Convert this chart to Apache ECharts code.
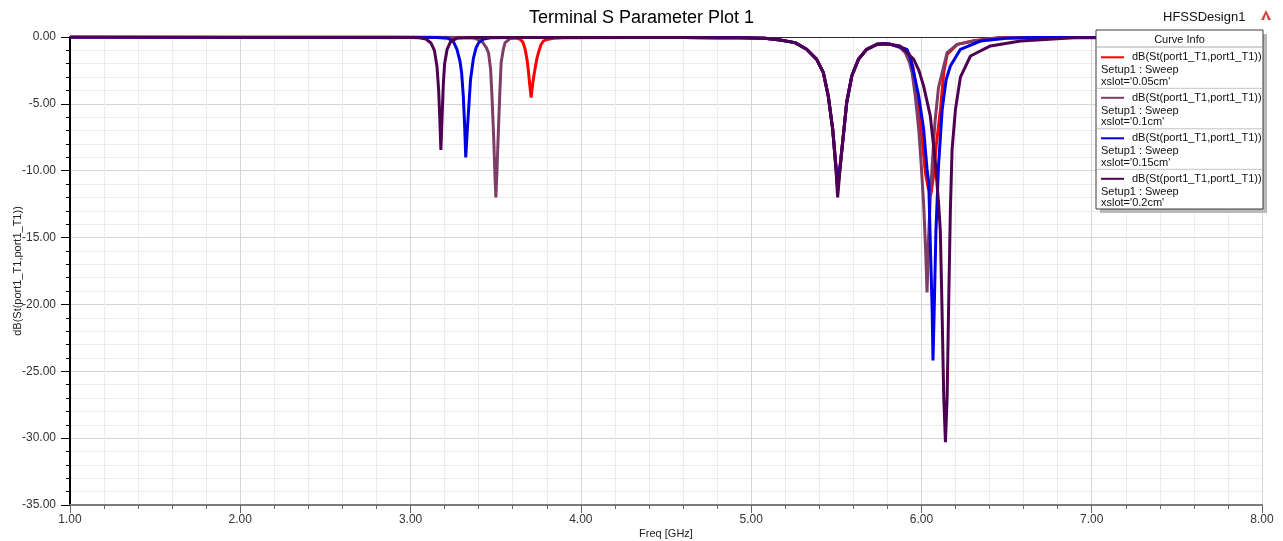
<!DOCTYPE html>
<html>
<head>
<meta charset="utf-8">
<title>Terminal S Parameter Plot 1</title>
<script src="https://cdn.jsdelivr.net/npm/echarts@6/dist/echarts.min.js"></script>
<style>
  html, body { margin: 0; padding: 0; background: #fff; }
  #chart { width: 1283px; height: 541px; }
</style>
</head>
<body>
<div id="chart"></div>
<script>
// Return loss |S11| in dB versus frequency (GHz) for four slot widths.
const traceName = "dB(St(port1_T1,port1_T1))";
const setupName = "Setup1 : Sweep";
const slotLabels = ["xslot='0.05cm'", "xslot='0.1cm'", "xslot='0.15cm'", "xslot='0.2cm'"];
const traceColors = ["#ff0000", "#7e3d66", "#0000e6", "#4e0052"];

const xTickValues = [1, 2, 3, 4, 5, 6, 7, 8];
const yTickValues = [0, -5, -10, -15, -20, -25, -30, -35];

const slot005 = [
  [1.0, 0.00], [2.0, -0.01], [3.0, -0.02], [3.55, -0.03], [3.62, -0.08], [3.645, -0.18],
  [3.66, -0.4], [3.673, -0.92], [3.684, -1.7], [3.693, -2.67], [3.70, -3.6], [3.708, -4.54],
  [3.716, -3.6], [3.724, -2.9], [3.732, -2.3], [3.742, -1.6], [3.751, -1.17], [3.765, -0.6],
  [3.78, -0.3], [3.80, -0.18], [3.84, -0.1], [3.9, -0.05], [4.3, -0.03], [4.6, -0.03],
  [4.8, -0.05], [4.934, -0.06], [5.08, -0.1], [5.17, -0.22], [5.257, -0.42], [5.326, -0.92],
  [5.385, -1.67], [5.424, -2.67], [5.453, -4.42], [5.479, -6.91], [5.498, -9.6], [5.508, -10.8],
  [5.522, -9.6], [5.541, -7.42], [5.561, -4.91], [5.591, -2.92], [5.63, -1.67], [5.679, -0.92],
  [5.738, -0.55], [5.78, -0.5], [5.82, -0.55], [5.875, -0.75], [5.90, -0.9], [5.925, -1.2],
  [5.95, -2.2], [5.975, -4.4], [5.99, -6.0], [6.004, -7.7], [6.024, -10.2], [6.04, -11.3],
  [6.055, -11.8], [6.07, -10.5], [6.088, -8.0], [6.112, -5.4], [6.131, -2.67], [6.151, -1.3],
  [6.21, -0.55], [6.307, -0.28], [6.464, -0.06], [6.7, -0.04], [7.0, -0.03], [8.0, -0.03]
];

const slot010 = [
  [1.0, 0.00], [2.0, -0.01], [3.0, -0.02], [3.30, -0.03], [3.38, -0.1], [3.42, -0.35],
  [3.445, -0.8], [3.458, -1.2], [3.47, -2.4], [3.478, -4.4], [3.488, -7.5], [3.496, -10.5],
  [3.501, -12.0], [3.508, -9.8], [3.516, -6.9], [3.524, -4.2], [3.532, -1.9], [3.545, -0.9],
  [3.555, -0.42], [3.585, -0.12], [3.65, -0.04], [4.3, -0.03], [4.6, -0.03], [4.8, -0.05],
  [4.934, -0.06], [5.08, -0.1], [5.17, -0.22], [5.257, -0.42], [5.326, -0.92], [5.385, -1.67],
  [5.424, -2.67], [5.453, -4.42], [5.479, -6.91], [5.498, -9.8], [5.508, -11.5], [5.522, -9.8],
  [5.541, -7.42], [5.561, -4.91], [5.591, -2.92], [5.63, -1.67], [5.679, -0.92], [5.738, -0.55],
  [5.78, -0.5], [5.82, -0.55], [5.875, -0.8], [5.905, -1.17], [5.93, -1.9], [5.945, -2.67],
  [5.964, -4.42], [5.984, -6.9], [5.998, -9.4], [6.013, -12.5], [6.025, -16.0], [6.033, -19.1],
  [6.042, -15.0], [6.052, -12.0], [6.066, -9.0], [6.08, -6.3], [6.10, -3.8], [6.131, -2.17],
  [6.151, -1.17], [6.21, -0.55], [6.307, -0.3], [6.445, -0.06], [7.0, -0.03], [8.0, -0.03]
];

const slot015 = [
  [1.0, 0.00], [2.0, -0.01], [3.0, -0.02], [3.15, -0.03], [3.22, -0.1], [3.25, -0.3],
  [3.272, -0.9], [3.29, -1.8], [3.30, -2.7], [3.31, -4.5], [3.318, -6.8], [3.324, -9.0],
  [3.332, -7.2], [3.34, -5.6], [3.352, -3.2], [3.369, -1.6], [3.385, -0.8], [3.40, -0.42],
  [3.43, -0.15], [3.47, -0.05], [3.6, -0.03], [4.3, -0.03], [4.6, -0.03], [4.8, -0.05],
  [4.934, -0.06], [5.08, -0.1], [5.17, -0.22], [5.257, -0.42], [5.326, -0.92], [5.385, -1.67],
  [5.424, -2.67], [5.453, -4.42], [5.479, -6.91], [5.498, -9.7], [5.508, -11.0], [5.522, -9.7],
  [5.541, -7.42], [5.561, -4.91], [5.591, -2.92], [5.63, -1.67], [5.679, -0.92], [5.738, -0.55],
  [5.78, -0.5], [5.82, -0.55], [5.875, -0.75], [5.915, -0.92], [5.935, -1.6], [5.955, -2.67],
  [5.984, -4.42], [6.013, -6.9], [6.033, -9.9], [6.043, -10.9], [6.053, -15.9], [6.063, -20.4],
  [6.068, -24.2], [6.075, -20.4], [6.085, -14.6], [6.10, -9.7], [6.122, -5.4], [6.145, -3.2],
  [6.17, -2.17], [6.229, -0.92], [6.347, -0.3], [6.5, -0.1], [6.68, -0.03], [8.0, -0.03]
];

const slot020 = [
  [1.0, 0.00], [2.0, -0.01], [2.9, -0.02], [3.0, -0.03], [3.05, -0.06], [3.09, -0.15],
  [3.12, -0.45], [3.14, -1.0], [3.155, -2.2], [3.165, -4.0], [3.172, -6.2], [3.178, -8.45],
  [3.185, -6.0], [3.192, -3.6], [3.20, -2.0], [3.215, -0.9], [3.235, -0.35], [3.27, -0.1],
  [3.35, -0.04], [4.3, -0.03], [4.6, -0.03], [4.8, -0.05], [4.934, -0.06], [5.08, -0.1],
  [5.17, -0.22], [5.257, -0.42], [5.326, -0.92], [5.385, -1.67], [5.424, -2.67], [5.453, -4.42],
  [5.479, -6.91], [5.498, -9.9], [5.508, -12.0], [5.522, -9.9], [5.541, -7.42], [5.561, -4.91],
  [5.591, -2.92], [5.63, -1.67], [5.679, -0.92], [5.738, -0.55], [5.78, -0.5], [5.82, -0.55],
  [5.875, -0.67], [5.91, -1.1], [5.955, -1.67], [5.985, -2.5], [6.013, -3.67], [6.052, -5.9],
  [6.082, -9.4], [6.101, -12.5], [6.111, -14.5], [6.121, -20.4], [6.131, -26.9], [6.141, -30.3],
  [6.151, -26.9], [6.16, -19.9], [6.17, -12.9], [6.18, -8.4], [6.20, -5.4], [6.229, -3.0],
  [6.288, -1.42], [6.405, -0.67], [6.582, -0.3], [6.895, -0.05], [8.0, -0.03]
];

const traces = [slot005, slot010, slot015, slot020];

const FONT = "'Liberation Sans', Arial, sans-serif";
const chart = echarts.init(document.getElementById('chart'), null, { renderer: 'canvas' });

const gridBox = { left: 70, right: 21, top: 37, bottom: 36, containLabel: false, outerBoundsMode: 'none' };

// Curve Info box, drawn over the plot in the upper right corner
const legendX = 1096, legendY = 30, legendW = 167, legendH = 179;
const legendItems = [
  { type: 'rect', shape: { x: legendX + 4, y: legendY + 4, width: legendW, height: legendH },
    style: { fill: '#b9b9b9' }, z: 100 },
  { type: 'rect', shape: { x: legendX, y: legendY, width: legendW, height: legendH },
    style: { fill: '#ffffff', stroke: '#3a3a3a', lineWidth: 1 }, z: 101 },
  { type: 'text', x: legendX + legendW / 2, y: legendY + 10,
    style: { text: 'Curve Info', fontSize: 11, fontFamily: FONT, fill: '#111',
             align: 'center', verticalAlign: 'middle' }, z: 102 },
  { type: 'line', shape: { x1: legendX + 1, y1: legendY + 17, x2: legendX + legendW - 1, y2: legendY + 17 },
    style: { stroke: '#a8a8a8', lineWidth: 1 }, z: 102 }
];
slotLabels.forEach((lab, i) => {
  const by = legendY + 27.3 + i * 40.5;
  legendItems.push(
    { type: 'line', shape: { x1: legendX + 5, y1: by, x2: legendX + 28, y2: by },
      style: { stroke: traceColors[i], lineWidth: 2 }, z: 102 },
    { type: 'text', x: legendX + 36, y: by,
      style: { text: traceName, fontSize: 11, fontFamily: FONT, fill: '#111', verticalAlign: 'middle' }, z: 102 },
    { type: 'text', x: legendX + 5, y: by + 13,
      style: { text: setupName, fontSize: 11, fontFamily: FONT, fill: '#111', verticalAlign: 'middle' }, z: 102 },
    { type: 'text', x: legendX + 5, y: by + 24.5,
      style: { text: lab, fontSize: 11, fontFamily: FONT, fill: '#111', verticalAlign: 'middle' }, z: 102 }
  );
  if (i < slotLabels.length - 1) {
    legendItems.push({ type: 'line',
      shape: { x1: legendX + 1, y1: by + 31, x2: legendX + legendW - 1, y2: by + 31 },
      style: { stroke: '#c4c4c4', lineWidth: 1 }, z: 102 });
  }
});

const option = {
  animation: false,
  backgroundColor: '#ffffff',
  title: {
    text: 'Terminal S Parameter Plot 1',
    left: 'center', top: 4,
    textStyle: { fontSize: 18, fontWeight: 'normal', color: '#000', fontFamily: FONT }
  },
  grid: gridBox,
  xAxis: [{
    type: 'value', min: 1, max: 8, interval: 1,
    name: 'Freq [GHz]', nameLocation: 'middle', nameGap: 23, nameMoveOverlap: false,
    nameTextStyle: { fontSize: 11, color: '#222', fontFamily: FONT },
    axisLine: { show: true, onZero: false, lineStyle: { color: '#7c7c7c', width: 2 } },
    axisTick: { show: true, inside: false, length: 8, lineStyle: { color: '#666', width: 1 },
                customValues: xTickValues },
    minorTick: { show: true, splitNumber: 5, length: 4, lineStyle: { color: '#666', width: 1 } },
    axisLabel: { margin: 9, fontSize: 12, color: '#333', fontFamily: FONT,
                 customValues: xTickValues, formatter: v => v.toFixed(2) },
    splitLine: { show: true, lineStyle: { color: '#d6d6d6', width: 1 } },
    minorSplitLine: { show: true, lineStyle: { color: '#ececec', width: 1 } }
  }, {
    // top frame line of the plot area
    type: 'value', position: 'top', min: 1, max: 8, interval: 1,
    axisLine: { show: true, onZero: false, lineStyle: { color: '#2a2a2a', width: 1 } },
    axisTick: { show: false }, axisLabel: { show: false }, splitLine: { show: false }
  }],
  yAxis: {
    type: 'value', min: -35, max: 0, interval: 5,
    name: 'dB(St(port1_T1,port1_T1))', nameLocation: 'middle', nameGap: 47, nameMoveOverlap: false,
    nameTextStyle: { fontSize: 11, color: '#222', fontFamily: FONT },
    axisLine: { show: true, onZero: false, lineStyle: { color: '#000', width: 2 } },
    axisTick: { show: true, inside: false, length: 9, lineStyle: { color: '#000', width: 1 },
                customValues: yTickValues },
    minorTick: { show: true, splitNumber: 5, length: 4, lineStyle: { color: '#000', width: 1 } },
    axisLabel: { margin: 14, fontSize: 12, color: '#333', fontFamily: FONT,
                 customValues: yTickValues, formatter: v => v.toFixed(2) },
    splitLine: { show: true, lineStyle: { color: '#d6d6d6', width: 1 } },
    minorSplitLine: { show: true, lineStyle: { color: '#ececec', width: 1 } }
  },
  series: traces.map((d, i) => ({
    name: slotLabels[i],
    type: 'line',
    data: d,
    showSymbol: false,
    smooth: false,
    clip: true,
    lineStyle: { color: traceColors[i], width: 3 },
    itemStyle: { color: traceColors[i] },
    z: 2 + i
  })),
  graphic: [
    { type: 'text', x: 1163, y: 17,
      style: { text: 'HFSSDesign1', fontSize: 13, fontFamily: FONT, fill: '#111', verticalAlign: 'middle' } },
    { type: 'polygon', shape: { points: [[1266, 10], [1261, 20], [1271, 20]] },
      style: { fill: '#d0453a' } },
    { type: 'polygon', shape: { points: [[1266, 14], [1264, 20], [1268, 20]] },
      style: { fill: '#ffffff' } }
  ].concat(legendItems)
};

chart.setOption(option);
</script>
</body>
</html>
